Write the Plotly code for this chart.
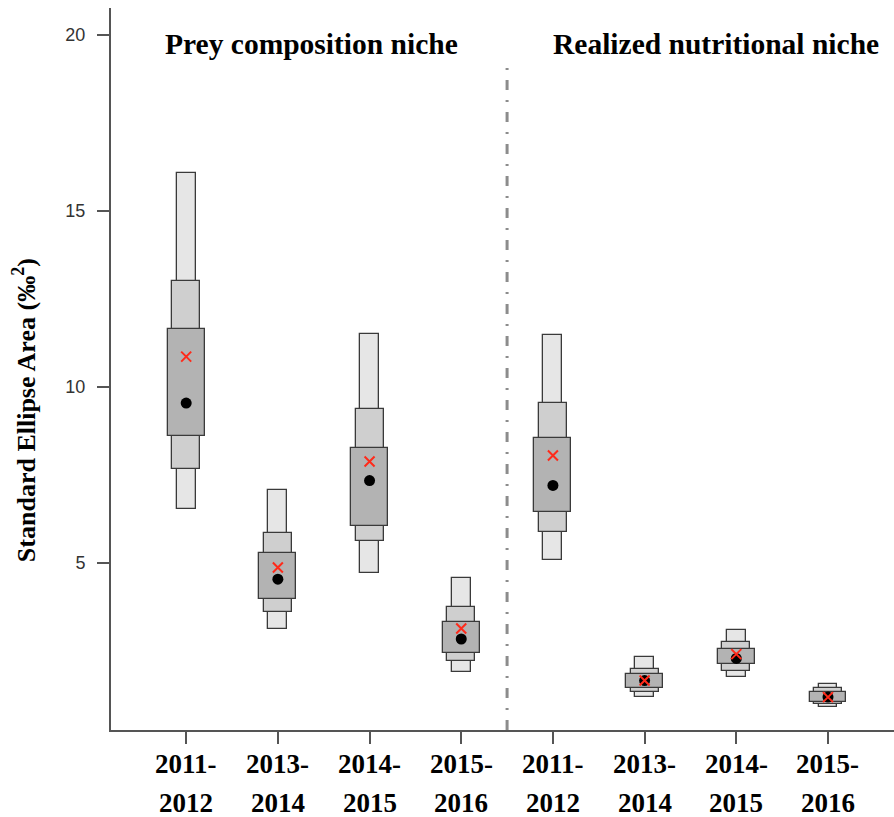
import plotly.graph_objects as go

# ---- data ----
periods = ["2011-2012", "2013-2014", "2014-2015", "2015-2016",
           "2011-2012", "2013-2014", "2014-2015", "2015-2016"]
positions = [1, 2, 3, 4, 5, 6, 7, 8]
lo95 = [6.53, 3.12, 4.71, 1.89, 5.09, 1.19, 1.77, 0.91]
lo75 = [7.66, 3.62, 5.61, 2.22, 5.88, 1.33, 1.94, 0.99]
lo50 = [8.61, 3.99, 6.06, 2.45, 6.45, 1.44, 2.12, 1.06]
hi50 = [11.64, 5.27, 8.26, 3.33, 8.56, 1.85, 2.57, 1.34]
hi75 = [13.02, 5.84, 9.38, 3.76, 9.54, 1.99, 2.75, 1.44]
hi95 = [16.07, 7.07, 11.50, 4.58, 11.46, 2.34, 3.10, 1.55]
mode_vals = [9.54, 4.54, 7.34, 2.84, 7.20, 1.66, 2.29, 1.19]
ml_vals = [10.86, 4.87, 7.88, 3.14, 8.05, 1.66, 2.41, 1.19]
y_ticks = [5, 10, 15, 20]
panel_titles = ["Prey composition niche", "Realized nutritional niche"]
divider_x = 4.5

fig = go.Figure()

outline = dict(color="#3a3a3a", width=1.3)
for lo, hi, w, col in [(lo95, hi95, 0.207, "#e6e6e6"),
                       (lo75, hi75, 0.305, "#cfcfcf"),
                       (lo50, hi50, 0.403, "#b3b3b3")]:
    fig.add_trace(go.Bar(
        x=positions, y=[h - l for h, l in zip(hi, lo)], base=lo,
        width=w, marker=dict(color=col, line=outline),
        showlegend=False, hoverinfo="skip"))

fig.add_trace(go.Scatter(
    x=positions, y=mode_vals, mode="markers",
    marker=dict(color="black", size=11, symbol="circle"),
    showlegend=False))
fig.add_trace(go.Scatter(
    x=positions, y=ml_vals, mode="markers",
    marker=dict(color="#ff2a1a", size=10, symbol="x-thin",
                line=dict(color="#ff2a1a", width=2)),
    showlegend=False))

# divider line
fig.add_trace(go.Scatter(
    x=[divider_x, divider_x], y=[0.256, 19.29], mode="lines",
    line=dict(color="#8c8c8c", width=3, dash="10px,10px,2px,10px"),
    showlegend=False, hoverinfo="skip"))

annotations = []
serif = "Liberation Serif, Times New Roman, serif"
for p, lab in zip(positions, periods):
    a, b = lab.split("-")
    annotations.append(dict(x=p, xref="x", y=0, yref="paper", yshift=-34,
                            text="<b>" + a + "-</b>", showarrow=False,
                            xanchor="center", yanchor="middle",
                            font=dict(family=serif, size=27, color="black")))
    annotations.append(dict(x=p, xref="x", y=0, yref="paper", yshift=-73,
                            text="<b>" + b + "</b>", showarrow=False,
                            xanchor="center", yanchor="middle",
                            font=dict(family=serif, size=27, color="black")))

for t, xp in zip(panel_titles, [0.2567, 0.7727]):
    annotations.append(dict(x=xp, xref="paper", y=0.950, yref="paper",
                            text="<b>" + t + "</b>", showarrow=False,
                            xanchor="center", yanchor="middle",
                            font=dict(family=serif, size=29.5, color="black")))

annotations.append(dict(x=0, xref="paper", xshift=-87, y=0.443, yref="paper",
                        text="<b>Standard Ellipse Area (‰<sup>2</sup>)</b>",
                        textangle=-90, showarrow=False,
                        xanchor="center", yanchor="middle",
                        font=dict(family=serif, size=26, color="black")))

fig.update_layout(
    width=894, height=817,
    margin=dict(l=111, r=0, t=8, b=87),
    plot_bgcolor="white", paper_bgcolor="white",
    barmode="overlay", bargap=0,
    annotations=annotations,
    xaxis=dict(range=[0.18, 8.72], tickvals=positions, showticklabels=False,
               showgrid=False, zeroline=False, showline=True,
               linecolor="#555555", linewidth=2,
               ticks="outside", ticklen=12, tickcolor="#555555", tickwidth=1.5),
    yaxis=dict(range=[0.256, 20.76], tickvals=y_ticks,
               ticktext=[str(v) for v in y_ticks],
               showgrid=False, zeroline=False, showline=True,
               linecolor="#555555", linewidth=2,
               ticks="outside", ticklen=12, tickcolor="#555555", tickwidth=1.5,
               tickfont=dict(family="Liberation Sans, Arial, sans-serif",
                             size=18, color="#333333"),
               ticklabelstandoff=8),
)

fig.write_html(
    "out.html",
    config={"displayModeBar": False},
    post_script="document.body.style.margin='0';"
                "document.body.style.overflow='hidden';",
)
